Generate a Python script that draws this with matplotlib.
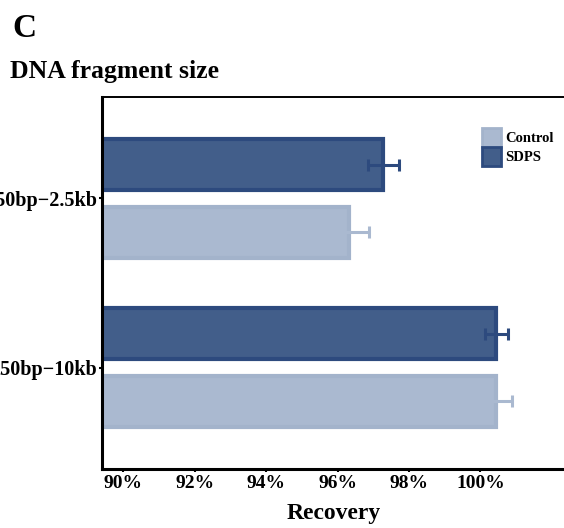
import numpy as np
import matplotlib
matplotlib.use("Agg")
import matplotlib.pyplot as plt
from matplotlib.patches import Patch

plt.rcParams['font.family'] = ['Liberation Serif', 'DejaVu Serif']
plt.rcParams['font.weight'] = 'bold'

# recovery (%) per fragment-size range
categories = ['250bp\u22122.5kb', '250bp\u221210kb']
sdps_mean = [97.28, 100.44]
sdps_err = [0.44, 0.32]
control_mean = [96.31, 100.44]
control_err = [0.58, 0.44]
xticks = [90, 92, 94, 96, 98, 100]

sdps_fill, sdps_edge = '#425e8a', '#2d4a7e'
ctrl_fill, ctrl_edge = '#aab9d0', '#a3b3cb'

fig = plt.figure(figsize=(5.64, 5.28), dpi=100)
ax = fig.add_axes([0.181, 0.1117, 0.823, 0.7046])

y = np.arange(len(categories))
h = 0.30
ax.barh(y - 0.2, sdps_mean, height=h, color=sdps_fill, edgecolor=sdps_edge, linewidth=3.0, zorder=2)
ax.barh(y + 0.2, control_mean, height=h, color=ctrl_fill, edgecolor=ctrl_edge, linewidth=3.0, zorder=2)
ax.errorbar(sdps_mean, y - 0.2, xerr=sdps_err, fmt='none', ecolor=sdps_edge,
            elinewidth=2.2, capsize=4.5, capthick=2.2, zorder=3)
ax.errorbar(control_mean, y + 0.2, xerr=control_err, fmt='none', ecolor=ctrl_fill,
            elinewidth=2.2, capsize=4.5, capthick=2.2, zorder=3)

ax.set_xlim(89.41, 102.4)
ax.set_ylim(1.6, -0.6)
ax.set_yticks(y)
ax.set_yticklabels(categories, fontsize=14.5, fontweight='bold')
ax.set_xticks(xticks)
ax.set_xticklabels([f'{v}%' for v in xticks], fontsize=14, fontweight='bold')
ax.tick_params(axis='both', length=2.5, width=1.5)
ax.tick_params(axis='y', pad=1)
ax.tick_params(axis='x', pad=2)
ax.set_xlabel('Recovery', fontsize=17, fontweight='bold', labelpad=8)

for side in ['left', 'bottom']:
    ax.spines[side].set_linewidth(2.2)
ax.spines['top'].set_linewidth(1.4)
ax.spines['right'].set_visible(False)

handles = [Patch(facecolor=ctrl_fill, edgecolor=ctrl_edge, linewidth=2, label='Control'),
           Patch(facecolor=sdps_fill, edgecolor=sdps_edge, linewidth=2, label='SDPS')]
fig.legend(handles=handles, loc='upper left', bbox_to_anchor=(481.7 / 564, 1 - 128 / 528),
           frameon=False, fontsize=10.5, handlelength=1.3, handleheight=1.64,
           labelspacing=0, handletextpad=0.3, borderpad=0, borderaxespad=0)

fig.text(12 / 564, 1 - 37 / 528, 'C', fontsize=24, fontweight='bold', va='baseline')
fig.text(10 / 564, 1 - 78 / 528, 'DNA fragment size', fontsize=18.5, fontweight='bold', va='baseline')

fig.savefig('out.png', dpi=100)
